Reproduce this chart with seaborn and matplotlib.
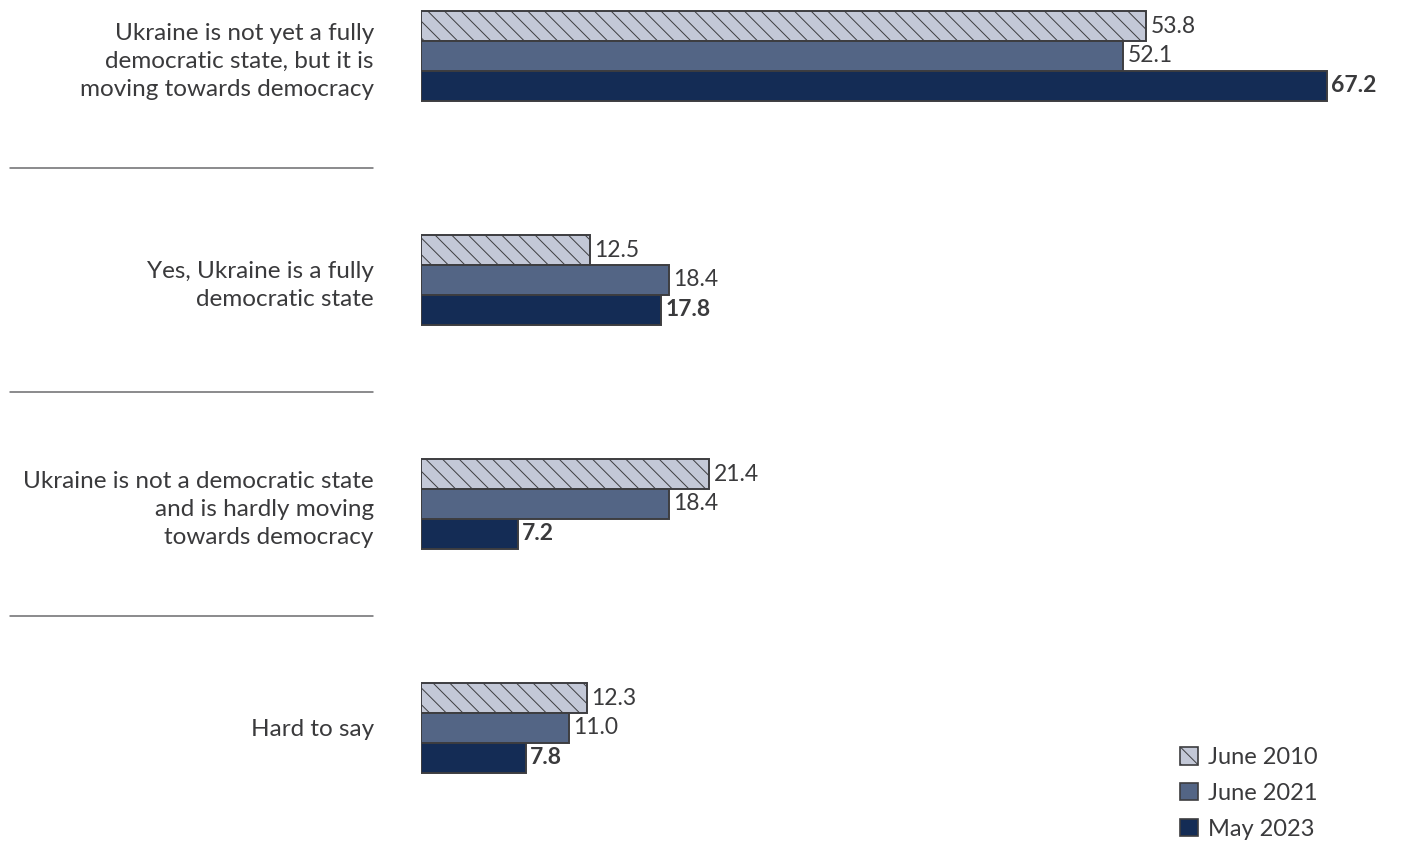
import matplotlib
matplotlib.use("Agg")
import matplotlib.pyplot as plt
import matplotlib.transforms as mtransforms
from matplotlib.patches import Patch
import seaborn as sns
import pandas as pd

categories = [
    "Ukraine is not yet a fully\ndemocratic state, but it is\nmoving towards democracy",
    "Yes, Ukraine is a fully\ndemocratic state",
    "Ukraine is not a democratic state\nand is hardly moving\ntowards democracy",
    "Hard to say",
]
periods = ["June 2010", "June 2021", "May 2023"]
june_2010 = [53.8, 12.5, 21.4, 12.3]
june_2021 = [52.1, 18.4, 18.4, 11.0]
may_2023 = [67.2, 17.8, 7.2, 7.8]

colors = ["#c3c8d7", "#536585", "#142c55"]
edge = "#3d3d40"
text_color = "#3a3a3c"

df = pd.DataFrame({
    "answer": categories * 3,
    "period": [p for p in periods for _ in categories],
    "value": june_2010 + june_2021 + may_2023,
})

sns.set_theme(style="white")
plt.rcParams["font.family"] = ["Lato", "DejaVu Sans"]
plt.rcParams["hatch.color"] = "#9298a6"
plt.rcParams["hatch.linewidth"] = 0.7

W, H = 1407, 843
fig = plt.figure(figsize=(W / 100, H / 100), dpi=100)
ax = fig.add_axes([421 / W, 0, (W - 421) / W, 1])

sns.barplot(data=df, y="answer", x="value", hue="period", order=categories,
            hue_order=periods, palette=colors, orient="h", width=0.4,
            edgecolor=edge, linewidth=1.4, saturation=1, legend=False, ax=ax)

for bar in ax.containers[0]:
    bar.set_hatch("\\\\")

for i, cont in enumerate(ax.containers):
    ax.bar_label(cont, labels=[f"{v:.1f}" for v in cont.datavalues],
                 padding=3, fontsize=16.5,
                 fontweight="bold" if i == 2 else "normal", color=text_color)

ax.set_xlim(0, (W - 421) / 13.48)
ax.set_ylim(3 + (H - 728) / 224, -56 / 224)
ax.set_xlabel("")
ax.set_ylabel("")
ax.set_xticks([])
sns.despine(ax=ax, left=True, bottom=True)
ax.tick_params(axis="y", length=0, pad=34)
for lab in ax.get_yticklabels():
    lab.set_fontsize(17.5)
    lab.set_color(text_color)
    lab.set_linespacing(1.42)
    lab.set_horizontalalignment("right")

# divider lines between answer groups, drawn in the label column
trans = mtransforms.blended_transform_factory(ax.transAxes, ax.transData)
x0, x1 = (10 - 421) / (W - 421), (373 - 421) / (W - 421)
for y in [0.5, 1.5, 2.5]:
    ax.plot([x0, x1], [y, y], transform=trans, color="#6b6b6e", lw=1.1,
            clip_on=False)

handles = [Patch(facecolor=c, edgecolor=edge, linewidth=1.2,
                 hatch="\\\\" if k == 0 else None)
           for k, c in enumerate(colors)]
leg = ax.legend(handles, periods, loc="lower left",
                bbox_to_anchor=((1180 - 421) / (W - 421), 0.004),
                frameon=False, fontsize=17, handlelength=0.75, handleheight=0.75,
                handletextpad=0.45, labelspacing=0.62, borderaxespad=0.0,
                borderpad=0.0)
for t in leg.get_texts():
    t.set_color(text_color)

fig.savefig("out.png", dpi=100)
